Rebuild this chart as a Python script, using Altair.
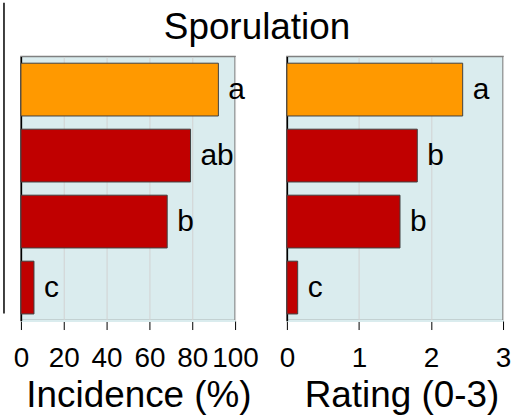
import altair as alt
import pandas as pd

# ---- data ----
treatments = ["T1", "T2", "T3", "T4"]
groups = ["best", "other", "other", "other"]
incidence = [92.2, 79.2, 68.3, 6.1]
incidence_letters = ["a", "ab", "b", "c"]
rating = [2.44, 1.81, 1.57, 0.15]
rating_letters = ["a", "b", "b", "c"]
incidence_ticks = [0, 20, 40, 60, 80, 100]
rating_ticks = [0, 1, 2, 3]

FONT = "Liberation Sans"
BG = "#DAECEE"

df_inc = pd.DataFrame({"treatment": treatments, "value": incidence,
                       "letter": incidence_letters, "group": groups})
df_rat = pd.DataFrame({"treatment": treatments, "value": rating,
                       "letter": rating_letters, "group": groups})


def panel(df, domain, ticks, title, width, title_x, extra=None):
    base = alt.Chart(df)
    y = alt.Y("treatment:N", sort=treatments,
              scale=alt.Scale(paddingInner=0.2, paddingOuter=0.1),
              axis=alt.Axis(labels=False, ticks=False, title=None, grid=False,
                            domainColor="black", domainWidth=1.5))
    x = alt.X("value:Q",
              scale=alt.Scale(domain=domain, nice=False, zero=True),
              axis=alt.Axis(values=ticks, format="d", title=title, grid=True,
                            gridColor="#d2d2d2", gridWidth=1,
                            tickColor="black", tickSize=9, tickWidth=1,
                            labelFontSize=28, labelFont=FONT, labelColor="black",
                            labelBaseline="alphabetic", labelPadding=37,
                            labelOverlap=False, labelFlush=False,
                            titleFontSize=37, titleFont=FONT,
                            titleFontWeight="normal", titleColor="black",
                            titleX=title_x, titleY=86,
                            titleBaseline="alphabetic",
                            domainColor=BG, domainWidth=2))
    bars = base.mark_bar(stroke="#404040", strokeWidth=1).encode(
        x=x, y=y,
        color=alt.Color("group:N",
                        scale=alt.Scale(domain=["best", "other"],
                                        range=["#FF9900", "#C00000"]),
                        legend=None),
    )
    text = base.mark_text(align="left", baseline="middle", dx=10,
                          fontSize=30, font=FONT, color="black").encode(
        x=alt.X("value:Q"),
        y=alt.Y("treatment:N", sort=treatments),
        text="letter:N",
    )
    layers = [bars, text]
    if extra is not None:
        layers.append(extra)
    return alt.layer(*layers).properties(width=width, height=265)


# fragment of a neighbouring panel's axis at the far left edge
fragment = alt.Chart(alt.Data(values=[{"k": 0}])).mark_rule(
    color="black", strokeWidth=1.5).encode(
    x=alt.value(-17), y=alt.value(-54), y2=alt.value(258))

left = panel(df_inc, [0, 100], incidence_ticks, "Incidence (%)", 215, 118,
             extra=fragment)
right = panel(df_rat, [0, 3], rating_ticks, "Rating (0-3)", 217, 115)

chart = alt.hconcat(left, right, spacing=52, bounds="flush").properties(
    title=alt.TitleParams("Sporulation", fontSize=37, font=FONT,
                          fontWeight="normal", color="black",
                          anchor="middle", baseline="alphabetic", offset=0,
                          dy=75),
    padding={"left": 2, "top": 0, "right": 0, "bottom": 0},
    background="white",
).configure_view(fill=BG, stroke="#808080", strokeWidth=1.5)

chart.save("out.html", embed_options={"renderer": "svg", "actions": False})
